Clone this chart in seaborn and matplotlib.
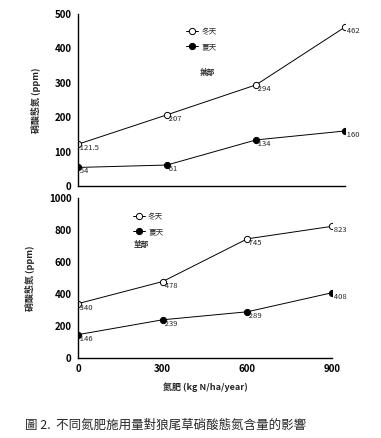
import matplotlib
matplotlib.use("Agg")
import matplotlib.pyplot as plt
import seaborn as sns
import pandas as pd

# nitrogen rates (kg N/ha/year)
n_rates = [0, 300, 600, 900]

# nitrate-N (ppm), leaf
leaf_winter = [121.5, 207, 294, 462]
leaf_summer = [54, 61, 134, 160]
leaf_winter_labels = ["121.5", "207", "294", "462"]
leaf_summer_labels = ["54", "61", "134", "160"]

# nitrate-N (ppm), stem
stem_winter = [340, 478, 745, 823]
stem_summer = [146, 239, 289, 408]
stem_winter_labels = ["340", "478", "745", "823"]
stem_summer_labels = ["146", "239", "289", "408"]

season_names = ["冬天", "夏天"]

sns.set_theme(style="white")
plt.rcParams["font.family"] = ["Noto Sans CJK TC", "DejaVu Sans"]

fig = plt.figure(figsize=(3.81, 4.38), dpi=100)
ax_top = fig.add_axes([0.2047, 0.5753, 0.7008, 0.3927])
ax_bot = fig.add_axes([0.2047, 0.1826, 0.6667, 0.3653])


def draw_panel(ax, winter, summer, w_labels, s_labels, ymax, ystep, part, leg_xy, part_xy):
    df = pd.DataFrame({
        "rate": n_rates * 2,
        "ppm": winter + summer,
        "season": [season_names[0]] * 4 + [season_names[1]] * 4,
    })
    for season, face in zip(season_names, ["white", "black"]):
        sub = df[df["season"] == season]
        sns.lineplot(data=sub, x="rate", y="ppm", ax=ax, color="black", lw=0.7,
                     marker="o", markersize=4.5, markerfacecolor=face,
                     markeredgecolor="black", markeredgewidth=0.7, label=season)
    for x, y, t in zip(n_rates, winter, w_labels):
        ax.text(x, y, " " + t, fontsize=5.5, ha="left", va="top")
    for x, y, t in zip(n_rates, summer, s_labels):
        ax.text(x, y, " " + t, fontsize=5.5, ha="left", va="top")

    ax.set_xlim(0, 900)
    ax.set_ylim(0, ymax)
    ax.set_yticks(range(0, ymax + 1, ystep))
    ax.set_xticks(n_rates)
    ax.set_xlabel("")
    ax.set_ylabel("硝酸態氮 (ppm)", fontsize=6.5, fontweight="bold", labelpad=10)
    for side in ["top", "right"]:
        ax.spines[side].set_visible(False)
    for side in ["left", "bottom"]:
        ax.spines[side].set_color("black")
        ax.spines[side].set_linewidth(1.0)
    ax.tick_params(axis="both", direction="out", length=2.5, width=0.8,
                   labelsize=7, colors="black", pad=2)
    for lab in ax.get_yticklabels() + ax.get_xticklabels():
        lab.set_fontweight("bold")
    ax.legend(loc="upper left", bbox_to_anchor=leg_xy, frameon=False, fontsize=5.5,
              handlelength=1.6, handletextpad=0.4, labelspacing=0.9, borderpad=0)
    ax.text(part_xy[0], part_xy[1], part, transform=ax.transAxes,
            fontsize=5.5, fontweight="bold", ha="left", va="center")


draw_panel(ax_top, leaf_winter, leaf_summer, leaf_winter_labels, leaf_summer_labels,
           500, 100, "葉部", (0.39, 0.94), (0.455, 0.66))
draw_panel(ax_bot, stem_winter, stem_summer, stem_winter_labels, stem_summer_labels,
           1000, 200, "莖部", (0.2, 0.93), (0.22, 0.71))

ax_top.set_xticklabels([])
ax_bot.set_xlabel("氮肥 (kg N/ha/year)", fontsize=6.5, fontweight="bold", labelpad=6)

fig.text(0.066, 0.030, "圖 2.  不同氮肥施用量對狼尾草硝酸態氮含量的影響", fontsize=9,
         ha="left", va="center")

fig.savefig("out.png", dpi=100)
